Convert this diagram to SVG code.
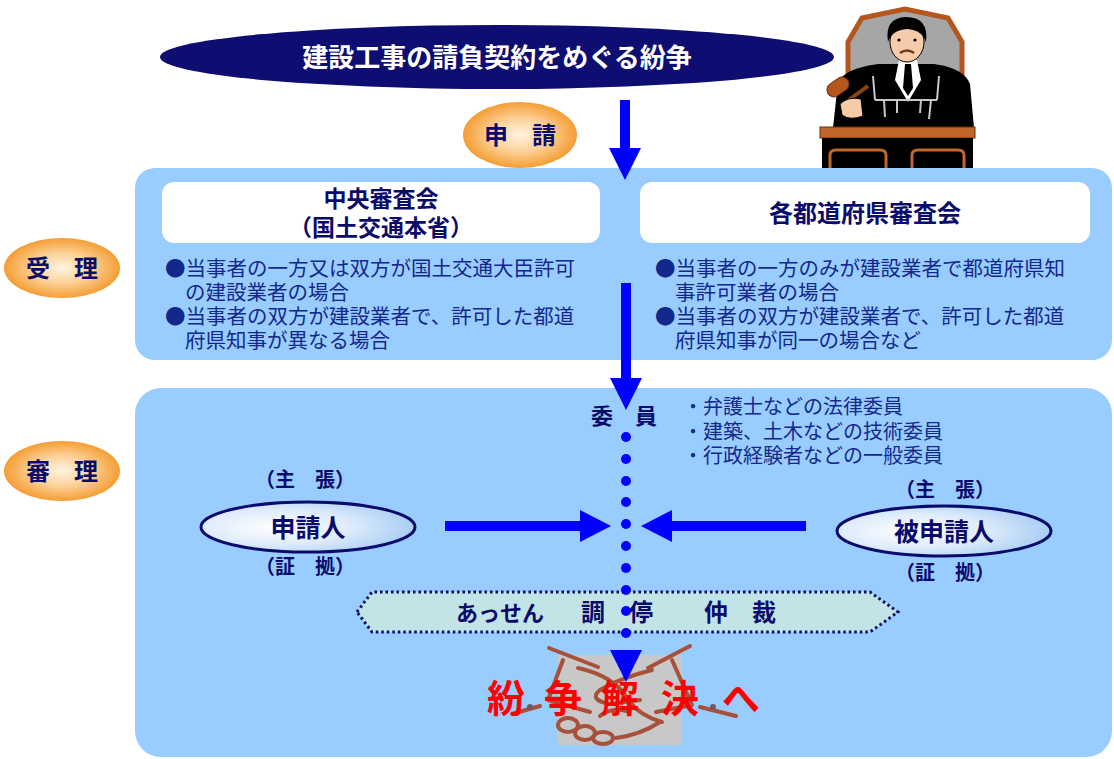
<svg xmlns="http://www.w3.org/2000/svg" width="1114" height="759" viewBox="0 0 1114 759">
  <defs>
    <radialGradient id="orangeFill" cx="50%" cy="50%" r="55%">
      <stop offset="0" stop-color="#FFF3E0"/>
      <stop offset="0.45" stop-color="#FCD29A"/>
      <stop offset="1" stop-color="#F39320"/>
    </radialGradient>
    <radialGradient id="partyFill" cx="35%" cy="50%" r="70%">
      <stop offset="0" stop-color="#FFFFFF"/>
      <stop offset="0.5" stop-color="#DDEBFB"/>
      <stop offset="1" stop-color="#9FC9F3"/>
    </radialGradient>
    <style>
      .jp { font-family: "Noto Sans CJK JP", "Noto Sans", sans-serif; }
      .b { font-weight: 700; }
      .navy { fill: #0B0B6B; }
      .body { fill: #13288C; font-size: 20.5px; }
      .list { fill: #13288C; font-size: 20px; }
      .panel { fill: #99CCFF; }
      .head { fill: #FFFFFF; }
      .orange { fill: url(#orangeFill); }
      .party { fill: url(#partyFill); stroke: #0B0B6B; stroke-width: 3; }
      .shaft { stroke: #0000FF; stroke-width: 10; fill: none; }
      .hand { fill: none; stroke: #A8503A; stroke-width: 4; stroke-linecap: round; stroke-linejoin: round; }
      .red { fill: #FF0000; font-size: 38px; }
    </style>
  </defs>

  <rect width="1114" height="759" fill="#FFFFFF"/>

  <!-- judge at the bench -->
  <g id="judge">
    <path d="M848,122 L848,42 L862,18 L905,9 L948,18 L962,42 L962,122 Z" fill="#A6A6A6" stroke="#B5561C" stroke-width="5"/>
    <path d="M833,128 L838,82 Q846,68 878,64 L934,64 Q964,68 970,84 L974,128 Z" fill="#000000"/>
    <path d="M899,60 L917,60 L921,80 L908,102 L895,80 Z" fill="#FFFFFF"/>
    <path d="M905,64 L911,64 L913,88 L908,96 L903,88 Z" fill="#000000"/>
    <path d="M873,76 L875,100 M939,76 L937,100 M875,100 L937,100 M884,100 L885,117 M897,100 L897,113 M921,100 L920,113 M931,100 L929,119" stroke="#C8C8C8" stroke-width="2" fill="none"/>
    <ellipse cx="907" cy="42" rx="17" ry="20" fill="#F6CBA8" stroke="#000000" stroke-width="1"/>
    <path d="M888,42 Q884,18 906,17 Q929,17 926,42 Q922,30 907,29 Q892,30 888,42 Z" fill="#000000"/>
    <path d="M900,53 Q907,48 914,53" stroke="#6B3A1E" stroke-width="2.5" fill="none"/>
    <circle cx="899" cy="40" r="1.6" fill="#000000"/>
    <circle cx="915" cy="40" r="1.6" fill="#000000"/>
    <path d="M846,102 L868,86" stroke="#8B4513" stroke-width="4"/>
    <rect x="826" y="80" width="24" height="14" rx="7" transform="rotate(-35 838 87)" fill="#B5561C" stroke="#6B2E0A" stroke-width="1"/>
    <path d="M840,104 Q848,96 861,99 L863,116 Q850,121 842,115 Z" fill="#F6CBA8" stroke="#000000" stroke-width="1"/>
    <rect x="820" y="127" width="155" height="11" fill="#C1662A" stroke="#6B2E0A" stroke-width="1"/>
    <rect x="822" y="138" width="151" height="31" fill="#000000"/>
    <path d="M830,168 L830,155 Q830,150 836,150 L880,150 Q886,150 886,155 L886,168" fill="none" stroke="#C1662A" stroke-width="3"/>
    <path d="M912,168 L912,155 Q912,150 918,150 L958,150 Q964,150 964,155 L964,168" fill="none" stroke="#C1662A" stroke-width="3"/>
  </g>

  <!-- title -->
  <g id="title">
    <ellipse cx="497" cy="57" rx="337" ry="32" fill="#0E0E72"/>
    <text x="497" y="67" text-anchor="middle" class="jp b" font-size="26" fill="#FFFFFF">建設工事の請負契約をめぐる紛争</text>
  </g>

  <!-- stage labels -->
  <g id="stage-apply">
    <ellipse cx="520" cy="135" rx="57" ry="33" class="orange"/>
    <text x="520" y="144" text-anchor="middle" class="jp b navy" font-size="24">申　請</text>
  </g>

  <!-- receipt panel -->
  <g id="receipt-panel">
    <rect x="135" y="168" width="977" height="192" rx="20" class="panel"/>
  </g>
  <g id="stage-receipt">
    <ellipse cx="62" cy="268" rx="58" ry="30" class="orange"/>
    <text x="62" y="277" text-anchor="middle" class="jp b navy" font-size="24">受　理</text>
  </g>
  <g id="central-board">
    <rect x="162" y="182" width="438" height="61" rx="12" class="head"/>
    <text x="381" y="207" text-anchor="middle" class="jp b navy" font-size="23">中央審査会</text>
    <text x="381" y="236" text-anchor="middle" class="jp b navy" font-size="23">（国土交通本省）</text>
    <text x="165" y="276" class="jp body">●当事者の一方又は双方が国土交通大臣許可</text>
    <text x="185" y="300" class="jp body">の建設業者の場合</text>
    <text x="165" y="324" class="jp body">●当事者の双方が建設業者で、許可した都道</text>
    <text x="185" y="348" class="jp body">府県知事が異なる場合</text>
  </g>
  <g id="prefectural-board">
    <rect x="640" y="182" width="450" height="61" rx="12" class="head"/>
    <text x="865" y="222" text-anchor="middle" class="jp b navy" font-size="24">各都道府県審査会</text>
    <text x="655" y="276" class="jp body">●当事者の一方のみが建設業者で都道府県知</text>
    <text x="675" y="300" class="jp body">事許可業者の場合</text>
    <text x="655" y="324" class="jp body">●当事者の双方が建設業者で、許可した都道</text>
    <text x="675" y="348" class="jp body">府県知事が同一の場合など</text>
  </g>

  <!-- hearing panel -->
  <g id="hearing-panel">
    <rect x="135" y="388" width="977" height="369" rx="26" class="panel"/>
  </g>
  <g id="stage-hearing">
    <ellipse cx="62" cy="471" rx="58" ry="30" class="orange"/>
    <text x="62" y="480" text-anchor="middle" class="jp b navy" font-size="24">審　理</text>
  </g>
  <g id="committee">
    <text x="624" y="424" text-anchor="middle" class="jp b navy" font-size="22">委　員</text>
    <text x="683" y="414" class="jp list">・弁護士などの法律委員</text>
    <text x="683" y="439" class="jp list">・建築、土木などの技術委員</text>
    <text x="683" y="463" class="jp list">・行政経験者などの一般委員</text>
  </g>
  <g id="applicant">
    <text x="305" y="487" text-anchor="middle" class="jp b navy" font-size="20">（主　張）</text>
    <ellipse cx="308" cy="527" rx="107" ry="25" class="party"/>
    <text x="308" y="537" text-anchor="middle" class="jp b navy" font-size="25">申請人</text>
    <text x="305" y="574" text-anchor="middle" class="jp b navy" font-size="20">（証　拠）</text>
  </g>
  <g id="respondent">
    <text x="945" y="497" text-anchor="middle" class="jp b navy" font-size="20">（主　張）</text>
    <ellipse cx="944" cy="531" rx="107" ry="25" class="party"/>
    <text x="944" y="541" text-anchor="middle" class="jp b navy" font-size="25">被申請人</text>
    <text x="945" y="580" text-anchor="middle" class="jp b navy" font-size="20">（証　拠）</text>
  </g>

  <!-- settlement procedures band -->
  <g id="procedures">
    <path d="M357,612 L372,592 L870,592 L898,612 L870,632 L372,632 Z" fill="#C2E4E6" stroke="#0B0B6B" stroke-width="3" stroke-dasharray="2.5,3"/>
    <text x="500" y="621" text-anchor="middle" class="jp b navy" font-size="22">あっせん</text>
    <text x="617" y="621" text-anchor="middle" class="jp b navy" font-size="24">調　停</text>
    <text x="740" y="621" text-anchor="middle" class="jp b navy" font-size="24">仲　裁</text>
  </g>

  <!-- handshake and resolution -->
  <g id="resolution">
    <rect x="558" y="655" width="124" height="90" fill="#C8C8C8"/>
    <g class="hand">
      <path d="M549,648 L598,667"/>
      <path d="M563,660 L548,700 L590,712"/>
      <path d="M512,714 L540,706"/>
      <path d="M578,668 Q615,676 628,700 Q640,716 662,722"/>
      <path d="M690,646 L648,668"/>
      <path d="M672,660 L692,705 L656,712"/>
      <path d="M736,716 L700,707"/>
      <path d="M652,670 Q620,678 600,690 Q588,700 610,704 L640,700"/>
      <ellipse cx="568" cy="725" rx="10" ry="7"/>
      <ellipse cx="585" cy="733" rx="10" ry="7"/>
      <ellipse cx="603" cy="738" rx="10" ry="6"/>
      <path d="M616,738 Q640,735 660,722"/>
      <path d="M600,716 Q612,706 630,712"/>
    </g>
    <circle cx="530" cy="707" r="3" fill="#6E5A5A"/>
    <circle cx="713" cy="707" r="3" fill="#6E5A5A"/>
    <text x="506" y="712" text-anchor="middle" class="jp b red">紛</text>
    <text x="563" y="712" text-anchor="middle" class="jp b red">争</text>
    <text x="620" y="712" text-anchor="middle" class="jp b red">解</text>
    <text x="680" y="712" text-anchor="middle" class="jp b red">決</text>
    <text x="741" y="712" text-anchor="middle" class="jp b red">へ</text>
  </g>

  <!-- connectors -->
  <g id="connectors">
    <path d="M625,100 L625,150" class="shaft"/>
    <path d="M609,148 L641,148 L625,180 Z" fill="#0000FF"/>
    <path d="M626,283 L626,380" class="shaft"/>
    <path d="M610,378 L642,378 L626,410 Z" fill="#0000FF"/>
    <path d="M445,526 L582,526" class="shaft"/>
    <path d="M580,510 L580,542 L611,526 Z" fill="#0000FF"/>
    <path d="M806,526 L670,526" class="shaft"/>
    <path d="M672,510 L672,542 L641,526 Z" fill="#0000FF"/>
    <g fill="#0000FF">
      <circle cx="626" cy="437" r="5"/>
      <circle cx="626" cy="459" r="5"/>
      <circle cx="626" cy="481" r="5"/>
      <circle cx="626" cy="502" r="5"/>
      <circle cx="626" cy="524" r="5"/>
      <circle cx="626" cy="546" r="5"/>
      <circle cx="626" cy="568" r="5"/>
      <circle cx="626" cy="590" r="5"/>
      <circle cx="626" cy="611" r="5"/>
      <circle cx="626" cy="633" r="5"/>
    </g>
    <path d="M610,650 L642,650 L626,682 Z" fill="#0000FF"/>
  </g>
</svg>
